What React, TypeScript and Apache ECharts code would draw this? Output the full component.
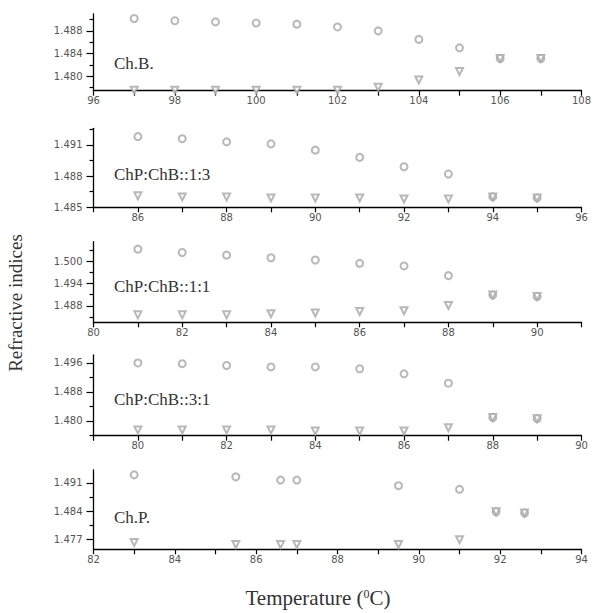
import React, { useEffect, useRef } from 'react';
import * as echarts from 'echarts';

// ---- data ----
const panelLabels = ['Ch.B.', 'ChP:ChB::1:3', 'ChP:ChB::1:1', 'ChP:ChB::3:1', 'Ch.P.'];

const temp1 = [97, 98, 99, 100, 101, 102, 103, 104, 105, 106, 107];
const circ1 = [1.4902, 1.4898, 1.4896, 1.4894, 1.4892, 1.4887, 1.488, 1.4865, 1.485, 1.4831, 1.4831];
const tri1 = [1.4775, 1.4775, 1.4775, 1.4775, 1.4775, 1.4775, 1.478, 1.4793, 1.4808, 1.4831, 1.4831];

const temp2 = [86, 87, 88, 89, 90, 91, 92, 93, 94, 95];
const circ2 = [1.4918, 1.4916, 1.4913, 1.4911, 1.4905, 1.4898, 1.4889, 1.4882, 1.486, 1.4859];
const tri2 = [1.4861, 1.486, 1.486, 1.4859, 1.4859, 1.4859, 1.4858, 1.4858, 1.486, 1.4859];

const temp3 = [81, 82, 83, 84, 85, 86, 87, 88, 89, 90];
const circ3 = [1.5032, 1.5023, 1.5016, 1.5009, 1.5003, 1.4994, 1.4987, 1.4961, 1.4909, 1.4905];
const tri3 = [1.4856, 1.4856, 1.4856, 1.4859, 1.4861, 1.4865, 1.4867, 1.4881, 1.4909, 1.4905];

const temp4 = [80, 81, 82, 83, 84, 85, 86, 87, 88, 89];
const circ4 = [1.496, 1.4958, 1.4953, 1.4949, 1.4949, 1.4944, 1.493, 1.4904, 1.4809, 1.4806];
const tri4 = [1.4775, 1.4775, 1.4775, 1.4775, 1.4772, 1.4772, 1.4772, 1.4781, 1.4809, 1.4806];

const temp5 = [83, 85.5, 86.6, 87, 89.5, 91, 91.9, 92.6];
const circ5 = [1.493, 1.4925, 1.4917, 1.4917, 1.4903, 1.4894, 1.4838, 1.4835];
const tri5 = [1.4762, 1.4757, 1.4757, 1.4757, 1.4757, 1.4769, 1.4838, 1.4835];

const xRanges = [[96, 108], [85, 96], [80, 91], [79, 90], [82, 94]];
const yRanges = [[1.4774, 1.491], [1.485, 1.4926], [1.4836, 1.5052], [1.4759, 1.4982], [1.4745, 1.4942]];
const yMajor = [
  [1.48, 1.484, 1.488],
  [1.485, 1.488, 1.491],
  [1.488, 1.494, 1.5],
  [1.48, 1.488, 1.496],
  [1.477, 1.484, 1.491],
];
const yMinor = [
  [1.478, 1.482, 1.486, 1.49],
  [1.4865, 1.4895, 1.4925],
  [1.485, 1.491, 1.497, 1.503],
  [1.476, 1.484, 1.492],
  [1.4805, 1.4875],
];

const temps = [temp1, temp2, temp3, temp4, temp5];
const circs = [circ1, circ2, circ3, circ4, circ5];
const tris = [tri1, tri2, tri3, tri4, tri5];

// ---- layout ----
const gridBoxes = [
  { top: 14, height: 76.7 },
  { top: 128.3, height: 79 },
  { top: 241.7, height: 80.6 },
  { top: 355, height: 80.7 },
  { top: 470, height: 79.3 },
];
const labelY = [63, 174, 286, 399, 517];
const GL = 93.5;
const GW = 488;

export default function App() {
  const ref = useRef<HTMLDivElement>(null);
  useEffect(() => {
    if (!ref.current) return;
    const chart = echarts.init(ref.current, undefined, { renderer: 'svg' });
    const axisColor = '#000';
    const tickFont = { fontSize: 10, color: '#555', fontFamily: 'DejaVu Sans' };
    const markColor = '#a6a6a6';

    const grid = gridBoxes.map((g) => ({ left: GL, top: g.top, width: GW, height: g.height, containLabel: false }));
    const xAxis = xRanges.map((r, i) => ({
      type: 'value',
      gridIndex: i,
      position: 'bottom',
      min: r[0],
      max: r[1],
      interval: 1,
      axisLine: { show: true, onZero: false, lineStyle: { color: axisColor, width: 1.3 } },
      axisTick: { show: true, length: 5, lineStyle: { color: axisColor, width: 1.2 } },
      axisLabel: {
        ...tickFont,
        margin: 5,
        formatter: (v: number) => (Math.round(v) % 2 === 0 ? String(Math.round(v)) : ''),
      },
      splitLine: { show: false },
    }));
    const yAxis: any[] = [];
    yRanges.forEach((r, i) => {
      yAxis.push({
        type: 'value',
        gridIndex: i,
        position: 'left',
        min: r[0],
        max: r[1],
        axisLine: { show: true, onZero: false, lineStyle: { color: axisColor, width: 1.3 } },
        axisTick: { show: true, length: 7, customValues: yMajor[i], lineStyle: { color: axisColor, width: 1.2 } },
        axisLabel: { ...tickFont, margin: 11, customValues: yMajor[i], formatter: (v: number) => v.toFixed(3) },
        splitLine: { show: false },
      });
      yAxis.push({
        type: 'value',
        gridIndex: i,
        position: 'left',
        min: r[0],
        max: r[1],
        axisLine: { show: false, onZero: false },
        axisTick: { show: true, length: 4, customValues: yMinor[i], lineStyle: { color: axisColor, width: 1.2 } },
        axisLabel: { show: false },
        splitLine: { show: false },
      });
    });

    const series: any[] = [];
    temps.forEach((t, i) => {
      series.push({
        type: 'scatter',
        xAxisIndex: i,
        yAxisIndex: 2 * i,
        symbol: 'emptyCircle',
        symbolSize: 7,
        itemStyle: { color: markColor, borderWidth: 1 },
        data: t.map((x, j) => [x, circs[i][j]]),
      });
      series.push({
        type: 'scatter',
        xAxisIndex: i,
        yAxisIndex: 2 * i,
        symbol: 'emptyTriangle',
        symbolRotate: 180,
        symbolSize: 7,
        itemStyle: { color: markColor, borderWidth: 1 },
        data: t.map((x, j) => [x, tris[i][j]]),
      });
    });

    const graphic: any[] = [
      {
        type: 'text',
        x: 15,
        y: 303,
        rotation: Math.PI / 2,
        style: {
          text: 'Refractive indices',
          font: '19px "Liberation Serif"',
          fill: '#333',
          textAlign: 'center',
          textVerticalAlign: 'middle',
        },
      },
      {
        type: 'text',
        x: 318,
        y: 598,
        style: {
          text: '{a|Temperature (}{s|0}{a|C)}',
          textAlign: 'center',
          textVerticalAlign: 'middle',
          rich: {
            a: { font: '21px "Liberation Serif"', fill: '#333' },
            s: { font: '12px "Liberation Serif"', fill: '#333', verticalAlign: 'top', padding: [0, 0, 9, 0] },
          },
        },
      },
      ...panelLabels.map((l, i) => ({
        type: 'text',
        x: 114,
        y: labelY[i],
        style: {
          text: l,
          font: '17px "Liberation Serif"',
          fill: '#333',
          textAlign: 'left',
          textVerticalAlign: 'middle',
        },
      })),
    ];

    chart.setOption({
      animation: false,
      backgroundColor: '#fff',
      grid,
      xAxis,
      yAxis,
      series,
      graphic,
    });
    return () => chart.dispose();
  }, []);
  return <div ref={ref} style={{ position: 'absolute', left: 0, top: 0, width: 595, height: 613 }} />;
}
